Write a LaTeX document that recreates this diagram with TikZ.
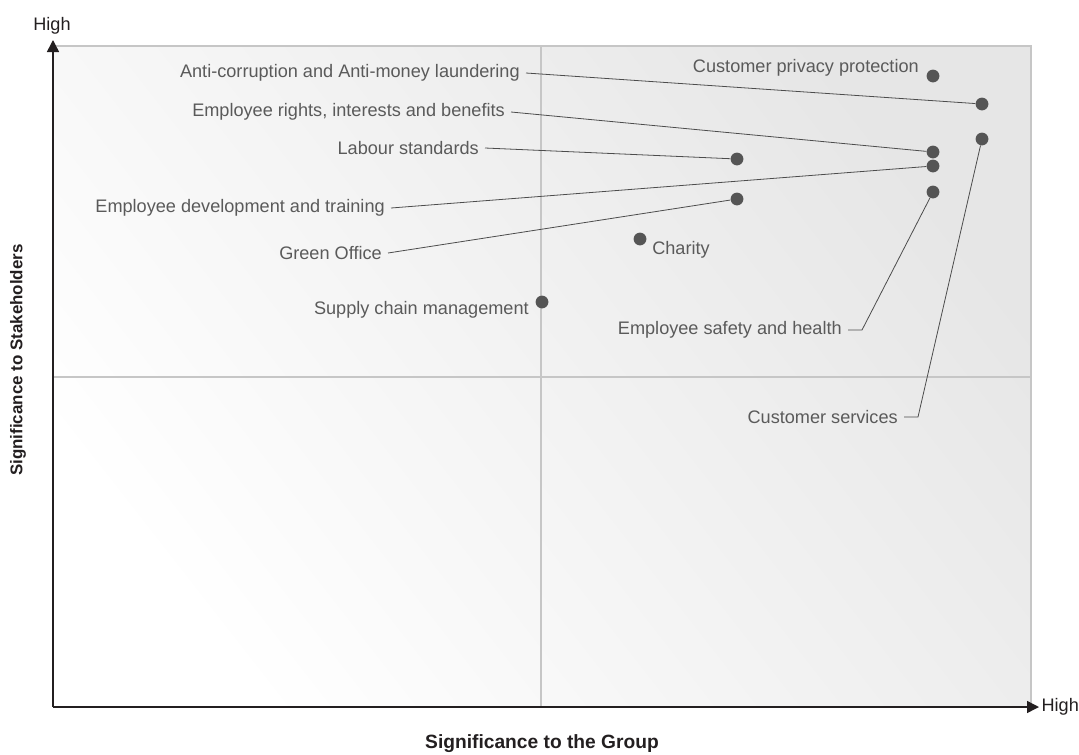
\documentclass[tikz,border=0pt]{standalone}
\usepackage{fontspec}
\setmainfont{Liberation Sans}
\usepackage{tikz}
\usetikzlibrary{arrows.meta}
\definecolor{txtgray}{HTML}{5A5A5A}
\definecolor{dotgray}{HTML}{555555}
\definecolor{axisdark}{HTML}{231F20}
\definecolor{gridgray}{HTML}{C6C6C6}
\definecolor{shadegray}{HTML}{E6E6E6}
\tikzstyle{issue} = [text=txtgray, inner xsep=4.5pt, inner ysep=0pt,
    font=\fontsize{13.6}{16}\selectfont]
\tikzstyle{mydot} = [circle, fill=dotgray, inner sep=0pt, minimum size=9.6pt]
\tikzstyle{leader} = [draw=dotgray!90!black, line width=0.6pt]
\tikzstyle{axistitle} = [text=axisdark, font=\fontsize{14.4}{17}\selectfont\bfseries]

\begin{document}
\begin{tikzpicture}[x=0.75pt, y=-0.75pt]
                \useasboundingbox (0,0) rectangle (1079,754);
                % background of the matrix
                \shade[top color=shadegray, bottom color=white, shading angle=-52] (53,46) rectangle (1031,707);
                \draw[gridgray, line width=0.9pt] (53,46) -- (1031,46) -- (1031,707);
                \draw[gridgray, line width=0.8pt] (541,46) -- (541,707);
                \draw[gridgray, line width=0.8pt] (53,377) -- (1031,377);
                % axes
                \coordinate (origin) at (53,707);
                \coordinate (ytip) at (53,40);
                \coordinate (xtip) at (1039,707);
                \draw[axisdark, line width=1.1pt, -{Triangle[width=9pt,length=9pt]}] (origin) -- (ytip);
                \draw[axisdark, line width=1.1pt, -{Triangle[width=9pt,length=9pt]}] (origin) -- (xtip);
                \node[text=axisdark, font=\fontsize{13.6}{16}\selectfont] (yhigh) at (52,26) {High};
                \node[text=axisdark, font=\fontsize{13.6}{16}\selectfont, anchor=west, inner xsep=1pt] (xhigh) at (1040,707) {High};
                \node[axistitle] (xtitle) at (542,744) {Significance to the Group};
                \node[axistitle, font=\fontsize{12.7}{15}\selectfont\bfseries, rotate=90] (ytitle) at (18,360) {Significance to Stakeholders};
                % issues
                \node[mydot] (privacy) at (933,76) {};
                \node[mydot] (anticorr) at (982,104) {};
                \node[mydot] (services) at (982,139) {};
                \node[mydot] (rights) at (933,152) {};
                \node[mydot] (training) at (933,166) {};
                \node[mydot] (safety) at (933,192) {};
                \node[mydot] (labour) at (737,159) {};
                \node[mydot] (green) at (737,199) {};
                \node[mydot] (charity) at (640,239) {};
                \node[mydot] (supply) at (542,302) {};
                \node[issue, anchor=east] (privacylbl) at (925,68) {Customer privacy protection};
                \node[issue, anchor=east] (anticorrlbl) at (526,73) {Anti-corruption and Anti-money laundering};
                \node[issue, anchor=east] (rightslbl) at (511,112) {Employee rights, interests and benefits};
                \node[issue, anchor=east] (labourlbl) at (485,148) {Labour standards};
                \node[issue, anchor=east] (traininglbl) at (391,208) {Employee development and training};
                \node[issue, anchor=east] (greenlbl) at (388,253) {Green Office};
                \node[issue, anchor=east] (supplylbl) at (535,310) {Supply chain management};
                \node[issue, anchor=west] (charitylbl) at (646,250) {Charity};
                \node[issue, anchor=east] (safetylbl) at (848,330) {Employee safety and health};
                \node[issue, anchor=east] (serviceslbl) at (904,417) {Customer services};
                % leader lines
                \draw[leader] (anticorrlbl.east) -- (anticorr);
                \draw[leader] (rightslbl.east) -- (rights);
                \draw[leader] (labourlbl.east) -- (labour);
                \draw[leader] (traininglbl.east) -- (training);
                \draw[leader] (greenlbl.east) -- (green);
                \draw[leader] (safetylbl.east) -- ++(14,0) -- (safety);
                \draw[leader] (serviceslbl.east) -- ++(14,0) -- (services);
            \end{tikzpicture}
\end{document}
